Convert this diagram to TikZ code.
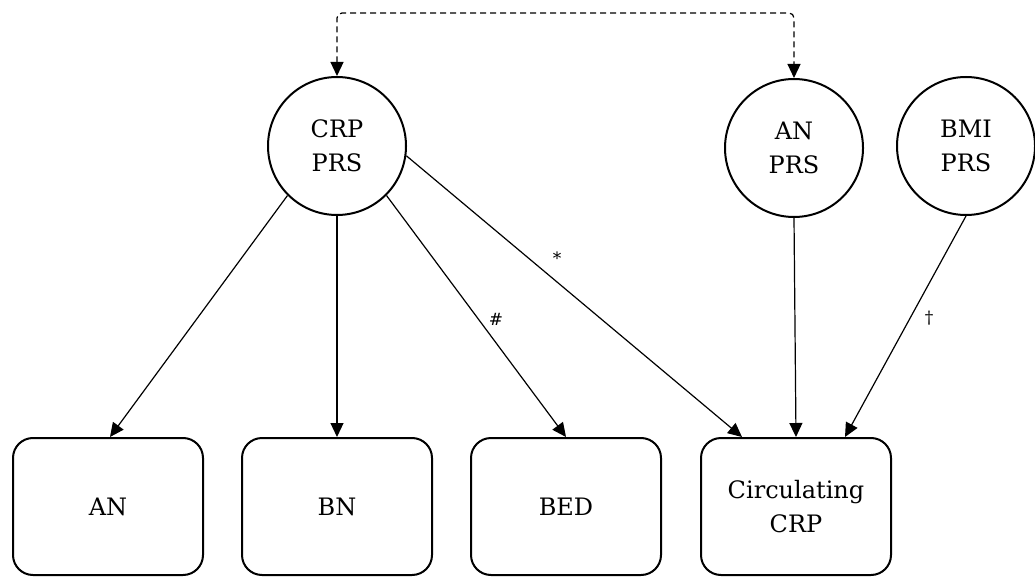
\documentclass[tikz,border=0pt]{standalone}
\usepackage{fontspec}
\setmainfont{DejaVu Serif}
\usetikzlibrary{arrows.meta}
\tikzset{
  prs/.style={circle, draw, line width=2pt, minimum size=138pt, inner sep=0pt, align=center, font=\fontsize{24}{34}\selectfont},
  outbox/.style={draw, line width=2pt, rounded corners=20pt, minimum width=190pt, minimum height=137pt, inner sep=0pt, align=center, font=\fontsize{24}{34}\selectfont},
  link/.style={line width=1.2pt, -{Triangle[length=14pt,width=13pt]}},
  dashlink/.style={line width=1.2pt, dash pattern=on 6pt off 4pt, rounded corners=5pt, {Triangle[length=14pt,width=13pt]}-{Triangle[length=14pt,width=13pt]}},
  symlabel/.style={font=\fontsize{17}{18}\selectfont, inner sep=0pt}
}
\begin{document}
\begin{tikzpicture}[x=1pt,y=-1pt]
\useasboundingbox (0,0) rectangle (1035,577);
\node[prs] (crp) at (337,146) {CRP\\PRS};
\node[prs] (anprs) at (794,148) {AN\\PRS};
\node[prs] (bmi) at (966,146) {BMI\\PRS};
\node[outbox] (an) at (108,506.5) {AN};
\node[outbox] (bn) at (337,506.5) {BN};
\node[outbox] (bed) at (566,506.5) {BED};
\node[outbox] (circ) at (796,506.5) {Circulating\\CRP};
\coordinate (top) at (0,13);
\draw[dashlink] (crp.north) -- (crp.north |- top) -- (anprs.north |- top) -- (anprs.north);
\draw[link] (crp.-135) -- ([xshift=2pt]an.north);
\draw[link] (crp.south) -- (bn.north);
\draw[link] (crp.-45) -- (bed.north);
\draw[link] (crp.-8) -- ([xshift=-54pt]circ.north);
\draw[link] (anprs.south) -- (circ.north);
\draw[link] (bmi.south) -- ([xshift=49pt]circ.north);
\node[symlabel] (star) at (557,258) {*};
\node[symlabel] (hash) at (496,319) {\#};
\node[symlabel] (dag) at (929,318) {†};
\end{tikzpicture}
\end{document}
